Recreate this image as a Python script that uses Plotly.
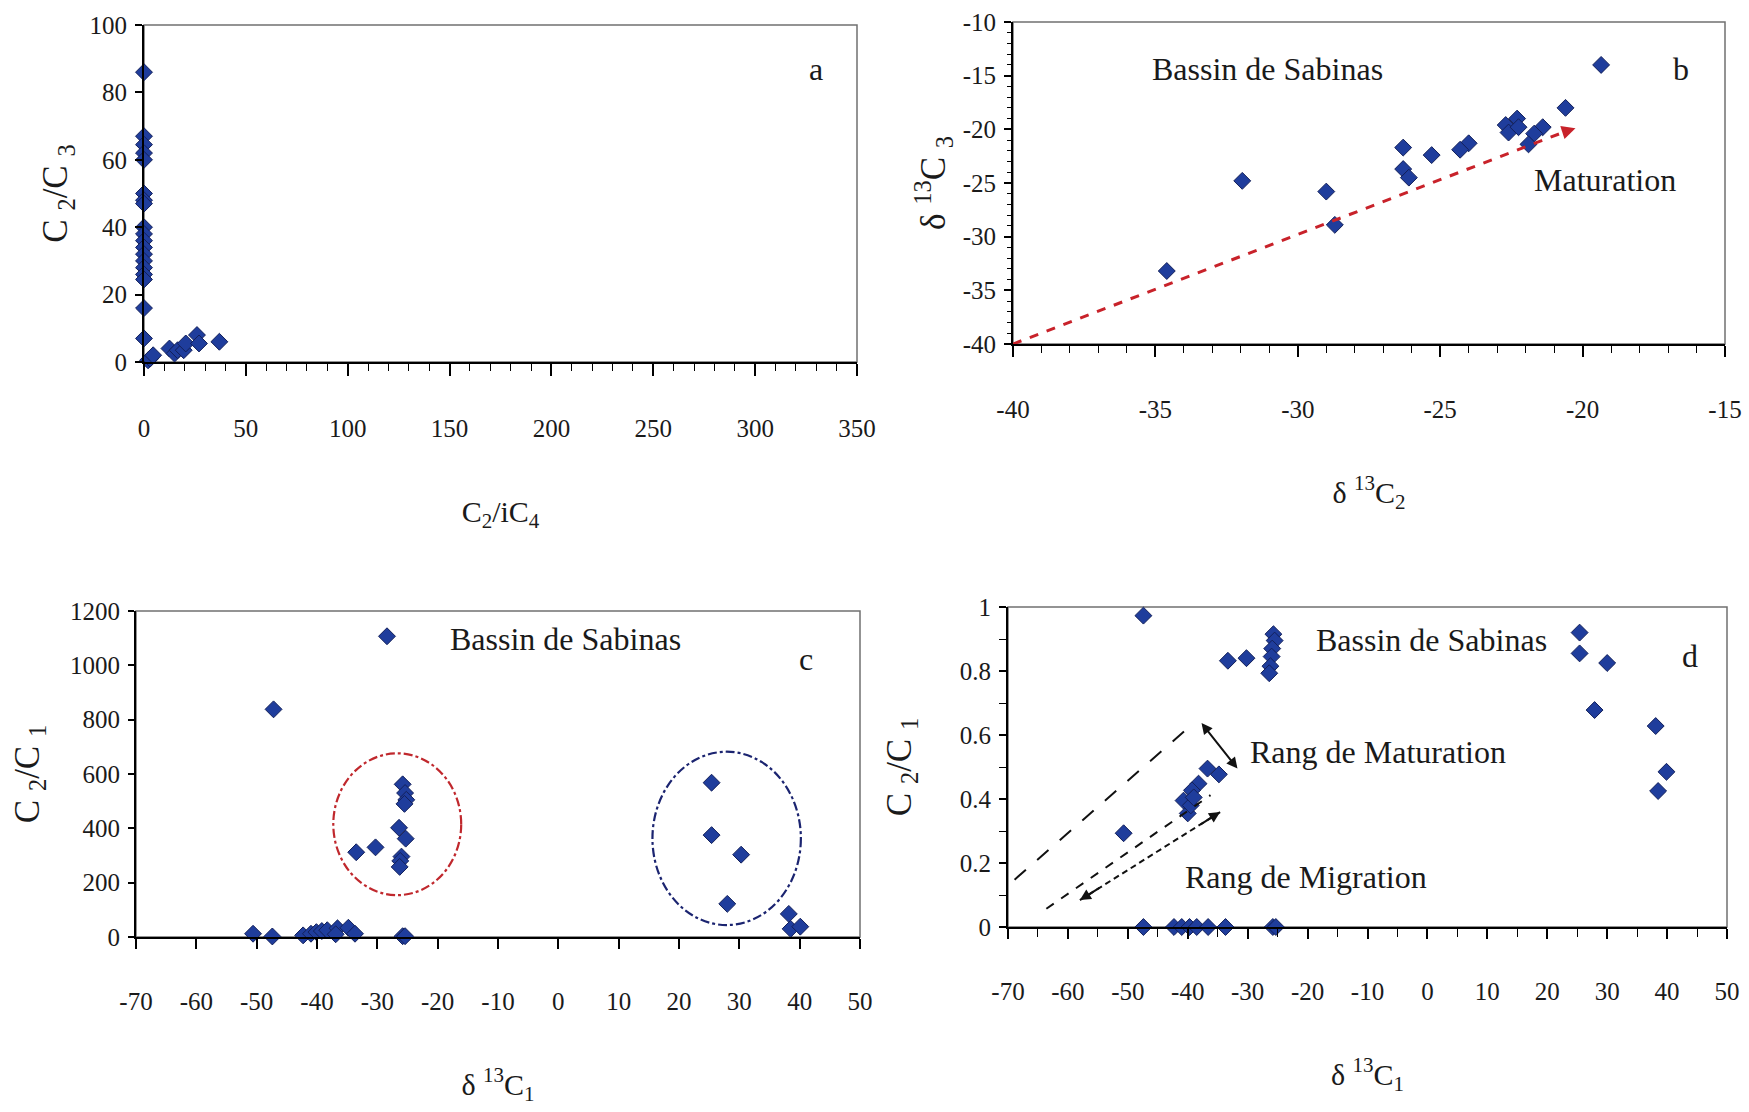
import plotly.graph_objects as go

# ---------------- data ----------------
# panel a : C2/C3 vs C2/iC4
a_x = [0, 0, 0, 0, 0, 0, 0, 0, 0, 0, 0, 0, 0, 0, 0, 0, 0, 0, 0,
       2, 3, 4.5, 12.5, 15, 16.5, 19.5, 20.5, 26, 27, 37]
a_y = [86, 67, 64.5, 62, 60, 50, 48, 47, 40, 38, 36, 34, 32, 30, 28, 26, 24.5, 16, 7,
       0.5, 1, 2, 4, 2.5, 3.5, 3.5, 5.5, 8, 5.5, 6]

# panel b : d13C3 vs d13C2
b_x = [-19.35, -20.6, -22.7, -22.3, -22.6, -22.25, -21.4, -21.7, -21.9, -24.0,
       -24.3, -25.3, -26.3, -26.3, -26.1, -31.95, -29.0, -28.7, -34.6]
b_y = [-14.0, -18.0, -19.6, -19.0, -20.3, -19.8, -19.8, -20.4, -21.4, -21.3,
       -21.9, -22.4, -21.7, -23.7, -24.5, -24.8, -25.8, -28.9, -33.2]
b_trend_x = [-40, -20.6]
b_trend_y = [-40, -20.2]
b_arrow_head = [-20.25, -19.9]

# panel c : C2/C1 vs d13C1
c_x = [-28.4, -47.2,
       -33.5, -30.3, -25.8, -25.4, -25.2, -25.5, -26.4, -25.3, -26.0, -26.2, -26.3,
       25.4, 25.4, 30.3, 28.0,
       38.2, 38.5, 40.1,
       -50.6, -47.4, -42.3, -41.0, -40.1, -39.2, -38.3, -36.6, -36.9, -34.8, -33.7, -25.8, -25.4]
c_y = [1107, 838,
       312, 330, 562, 530, 505, 490, 402, 362, 296, 280, 258,
       568, 375, 303, 122,
       85, 30, 38,
       12, 2, 6, 12, 18, 22, 25, 32, 10, 34, 12, 3, 3]
c_red_ellipse = [-37.3, -16.1, 154, 676]
c_blue_ellipse = [15.6, 40.2, 44, 682]

# panel d : C2/C1 vs d13C1
d_x = [-47.4, -33.3, -30.2, -25.7, -25.5, -25.9, -26.0, -26.2, -26.4,
       25.4, 25.4, 30.0, 27.9, 38.1, 39.9, 38.5,
       -50.7, -36.7, -34.8, -38.2, -39.3, -40.7, -40.0, -39.5, -39.0,
       -47.4, -42.3, -41.0, -39.7, -38.5, -36.6, -33.7, -25.8, -25.3]
d_y = [0.973, 0.832, 0.840, 0.915, 0.895, 0.870, 0.845, 0.815, 0.793,
       0.920, 0.855, 0.825, 0.678, 0.628, 0.485, 0.425,
       0.293, 0.495, 0.477, 0.448, 0.427, 0.395, 0.355, 0.380, 0.405,
       0, 0, 0, 0, 0, 0, 0, 0, 0]
d_line1 = [[-68.9, -40.5], [0.148, 0.613]]
d_line2 = [[-63.6, -36.2], [0.057, 0.412]]
d_line3 = [[-58.0, -34.6], [0.084, 0.359]]
d_line3_arrows = [[(-58.0, 0.084), (-54.5, 0.125)], [(-34.6, 0.359), (-38.1, 0.318)]]
d_mat_arrow = [[-37.9, 0.642], [-31.7, 0.495]]

# tick labels
a_xticks = [0, 50, 100, 150, 200, 250, 300, 350]
a_yticks = [0, 20, 40, 60, 80, 100]
b_xticks = [-40, -35, -30, -25, -20, -15]
b_yticks = [-40, -35, -30, -25, -20, -15, -10]
cd_xticks = [-70, -60, -50, -40, -30, -20, -10, 0, 10, 20, 30, 40, 50]
c_yticks = [0, 200, 400, 600, 800, 1000, 1200]
d_yticks = [0, 0.2, 0.4, 0.6, 0.8, 1]
d_yticktext = ["0", "0.2", "0.4", "0.6", "0.8", "1"]

# ---------------- style ----------------
FONT = "Liberation Serif"
TXT = "#1a1a1a"
MARK_FILL = "#1f3d9c"
MARK_LINE = "#13205a"
W, H = 1749, 1112


def px_x(p):
    return p / W


def px_y(p):
    return 1 - p / H


fig = go.Figure()


def add_points(x, y, ax):
    fig.add_trace(go.Scatter(
        x=x, y=y, mode="markers", xaxis="x" + ax, yaxis="y" + ax,
        marker=dict(symbol="diamond", size=13, color=MARK_FILL,
                    line=dict(color=MARK_LINE, width=1)),
        cliponaxis=False, showlegend=False, hoverinfo="x+y"))


add_points(a_x, a_y, "")
add_points(b_x, b_y, "2")
add_points(c_x, c_y, "3")
add_points(d_x, d_y, "4")

# red dashed maturation trend in b
fig.add_trace(go.Scatter(x=b_trend_x, y=b_trend_y, mode="lines", xaxis="x2", yaxis="y2",
                         line=dict(color="#c8222a", width=3, dash="dash"),
                         showlegend=False, hoverinfo="skip"))

# guide lines in d
fig.add_trace(go.Scatter(x=d_line1[0], y=d_line1[1], mode="lines", xaxis="x4", yaxis="y4",
                         line=dict(color="#111", width=2, dash="longdash"),
                         showlegend=False, hoverinfo="skip"))
fig.add_trace(go.Scatter(x=d_line2[0], y=d_line2[1], mode="lines", xaxis="x4", yaxis="y4",
                         line=dict(color="#111", width=2, dash="dash"),
                         showlegend=False, hoverinfo="skip"))
fig.add_trace(go.Scatter(x=d_line3[0], y=d_line3[1], mode="lines", xaxis="x4", yaxis="y4",
                         line=dict(color="#111", width=2, dash="6px,4px"),
                         showlegend=False, hoverinfo="skip"))

TICKFONT = dict(family=FONT, size=25, color=TXT)
XTITLEFONT = dict(family=FONT, size=30, color=TXT)
YTITLEFONT = dict(family=FONT, size=35, color=TXT)


def xaxis(domain, anchor, rng, tickvals, ticktext, ticklen, minor_dtick, minor_len, title):
    d = dict(domain=domain, anchor=anchor, range=rng, showgrid=False, zeroline=False,
             showline=True, linecolor="black", linewidth=2,
             ticks="outside", ticklen=ticklen, tickwidth=1.5, tickcolor="black",
             tickmode="array", tickvals=tickvals, ticktext=ticktext,
             tickfont=TICKFONT, ticklabelstandoff=31,
             title=dict(text=title, font=XTITLEFONT, standoff=60),
             automargin=False, fixedrange=True)
    if minor_dtick:
        d["minor"] = dict(dtick=minor_dtick, tick0=rng[0], ticks="outside", ticklen=minor_len,
                          tickwidth=1.2, tickcolor="black", showgrid=False)
    return d


def yaxis(domain, anchor, rng, tickvals, ticktext, ticklen, minor_dtick, minor_len, title, standoff):
    d = dict(domain=domain, anchor=anchor, range=rng, showgrid=False, zeroline=False,
             showline=True, linecolor="black", linewidth=2,
             ticks="outside", ticklen=ticklen, tickwidth=1.5, tickcolor="black",
             tickmode="array", tickvals=tickvals, ticktext=ticktext,
             tickfont=TICKFONT, ticklabelstandoff=3,
             title=dict(text=title, font=YTITLEFONT, standoff=standoff),
             automargin=False, fixedrange=True)
    if minor_dtick:
        d["minor"] = dict(dtick=minor_dtick, tick0=rng[0], ticks="outside", ticklen=minor_len,
                          tickwidth=1.2, tickcolor="black", showgrid=False)
    return d


fig.update_layout(
    width=W, height=H, margin=dict(l=0, r=0, t=0, b=0),
    paper_bgcolor="white", plot_bgcolor="white",
    font=dict(family=FONT, color=TXT),
    xaxis=xaxis([px_x(144), px_x(857)], "y", [0, 350], a_xticks, [str(v) for v in a_xticks],
                12, 10, 7, "C<sub>2</sub>/iC<sub>4</sub>"),
    yaxis=yaxis([px_y(362), px_y(25)], "x", [0, 100], a_yticks, [str(v) for v in a_yticks],
                7, None, 0, "C <sub>2</sub>/C <sub>3</sub>", 11),
    xaxis2=xaxis([px_x(1013), px_x(1725)], "y2", [-40, -15], b_xticks, [str(v) for v in b_xticks],
                 11, 1, 7, "δ <sup>13</sup>C<sub>2</sub>"),
    yaxis2=yaxis([px_y(344), px_y(22)], "x2", [-40, -10], b_yticks, [str(v) for v in b_yticks],
                 7, 1, 4, "δ <sup>13</sup>C <sub>3</sub>", 6),
    xaxis3=xaxis([px_x(136), px_x(860)], "y3", [-70, 50], cd_xticks, [str(v) for v in cd_xticks],
                 10, None, 0, "δ <sup>13</sup>C<sub>1</sub>"),
    yaxis3=yaxis([px_y(937), px_y(611)], "x3", [0, 1200], c_yticks, [str(v) for v in c_yticks],
                 6, None, 0, "C <sub>2</sub>/C <sub>1</sub>", 20),
    xaxis4=xaxis([px_x(1008), px_x(1727)], "y4", [-70, 50], cd_xticks, [str(v) for v in cd_xticks],
                 10, 5, 8, "δ <sup>13</sup>C<sub>1</sub>"),
    yaxis4=yaxis([px_y(927), px_y(607)], "x4", [0, 1], d_yticks, d_yticktext,
                 7, 0.1, 7, "C <sub>2</sub>/C <sub>1</sub>", 38),
)

# panel borders (top/right light frame)
for ax in ["", "2", "3", "4"]:
    fig.add_shape(type="rect", xref="x%s domain" % ax, yref="y%s domain" % ax,
                  x0=0, x1=1, y0=0, y1=1, line=dict(color="#707070", width=1.5), layer="below")

# ellipses in c
fig.add_shape(type="circle", xref="x3", yref="y3",
              x0=c_red_ellipse[0], x1=c_red_ellipse[1], y0=c_red_ellipse[2], y1=c_red_ellipse[3],
              line=dict(color="#c0282d", width=2.2, dash="dashdot"))
fig.add_shape(type="circle", xref="x3", yref="y3",
              x0=c_blue_ellipse[0], x1=c_blue_ellipse[1], y0=c_blue_ellipse[2], y1=c_blue_ellipse[3],
              line=dict(color="#1b2470", width=2.2, dash="dashdot"))

ANN = dict(family=FONT, size=32, color=TXT)


def text(ax, x, y, s, xanchor="center"):
    fig.add_annotation(xref="x" + ax, yref="y" + ax, x=x, y=y, text=s, showarrow=False,
                       font=ANN, xanchor=xanchor, yanchor="middle")


text("", 330, 87, "a")
text("2", -31.05, -14.4, "Bassin de Sabinas")
text("2", -19.2, -24.7, "Maturation")
text("2", -16.55, -14.4, "b")
text("3", 1.2, 1096, "Bassin de Sabinas")
text("3", 41.1, 1025, "c")
text("4", 0.6, 0.898, "Bassin de Sabinas")
text("4", -8.3, 0.546, "Rang de Maturation")
text("4", -20.2, 0.156, "Rang de Migration")
text("4", 43.9, 0.848, "d")

# arrow head of the maturation trend (b)
fig.add_annotation(xref="x2", yref="y2", axref="x2", ayref="y2",
                   x=b_arrow_head[0], y=b_arrow_head[1], ax=b_trend_x[1], ay=b_trend_y[1],
                   showarrow=True, arrowhead=2, arrowsize=1.1, arrowwidth=2.5,
                   arrowcolor="#c8222a", text="")

# double-headed maturation-range arrow (d)
fig.add_annotation(xref="x4", yref="y4", axref="x4", ayref="y4",
                   x=d_mat_arrow[1][0], y=d_mat_arrow[1][1],
                   ax=d_mat_arrow[0][0], ay=d_mat_arrow[0][1],
                   showarrow=True, arrowhead=2, startarrowhead=2, arrowside="end+start",
                   arrowsize=1.1, arrowwidth=2, arrowcolor="#111", text="")

# arrow heads at both ends of the migration dashed line (d)
for (hx, hy), (tx, ty) in d_line3_arrows:
    fig.add_annotation(xref="x4", yref="y4", axref="x4", ayref="y4",
                       x=hx, y=hy, ax=tx, ay=ty, showarrow=True, arrowhead=2,
                       arrowsize=1.1, arrowwidth=2, arrowcolor="#111", text="")

fig.write_html("out.html", config={"displayModeBar": False})

# remove default page margins so the figure fills the window exactly
with open("out.html", "r", encoding="utf-8") as f:
    html = f.read()
html = html.replace("<head>", "<head><style>html,body{margin:0;padding:0;overflow:hidden;}</style>", 1)
with open("out.html", "w", encoding="utf-8") as f:
    f.write(html)
